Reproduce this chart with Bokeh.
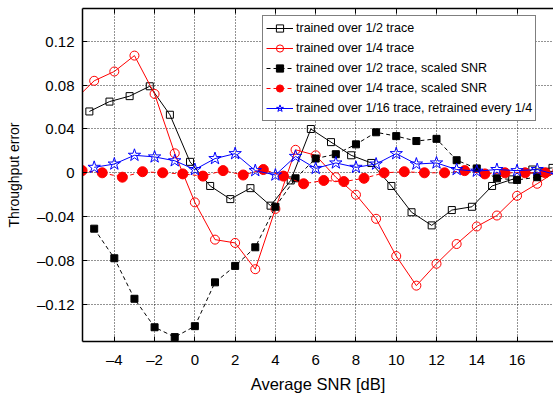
from bokeh.plotting import figure
from bokeh.models import Range1d, FixedTicker, LinearAxis, Legend, LegendItem, CustomJSTickFormatter
from bokeh.embed import file_html
from bokeh.resources import INLINE

# ---------------- data ----------------
x_half = [-5.24, -4.24, -3.24, -2.24, -1.24, -0.24, 0.76, 1.76, 2.76, 3.76, 4.76, 5.76,
          6.76, 7.76, 8.76, 9.76, 10.76, 11.76, 12.76, 13.76, 14.76, 15.76, 16.76, 17.76]
y_half = [0.056, 0.065, 0.070, 0.079, 0.053, 0.010, -0.012, -0.024, -0.014, -0.030, -0.007, 0.040,
          0.028, 0.016, 0.009, -0.012, -0.036, -0.048, -0.034, -0.031, -0.012, -0.006, 0.003, 0.0045]

x_quarter = [-6, -5, -4, -3, -2, -1, 0, 1, 2, 3, 4, 5, 6, 7, 8, 9, 10, 11, 12, 13, 14, 15, 16, 17, 18]
y_quarter = [0.066, 0.084, 0.0925, 0.107, 0.072, 0.0178, -0.027, -0.061, -0.064, -0.088, -0.033, 0.021,
             0.016, -0.004, -0.020, -0.042, -0.076, -0.103, -0.083, -0.065, -0.049, -0.039, -0.021, -0.010, 0.002]

x_half_s = [-5, -4, -3, -2, -1, 0, 1, 2, 3, 4, 5, 6, 7, 8, 9, 10, 11, 12, 13, 14, 15, 16, 17, 18]
y_half_s = [-0.051, -0.078, -0.115, -0.141, -0.150, -0.140, -0.100, -0.085, -0.068, -0.031, -0.005, 0.013,
            0.017, 0.026, 0.037, 0.0335, 0.029, 0.031, 0.0115, 0.004, -0.005, -0.0065, -0.004, -0.001]

x_quarter_s = [-5.6, -4.6, -3.6, -2.6, -1.6, -0.6, 0.4, 1.4, 2.4, 3.4, 4.4, 5.4,
               6.4, 7.4, 8.4, 9.4, 10.4, 11.4, 12.4, 13.4, 14.4, 15.4, 16.4, 17.4]
y_quarter_s = [0.002, 0.000, -0.004, 0.001, 0.000, -0.001, -0.003, 0.002, -0.002, 0.003, -0.003, -0.010,
               -0.007, -0.008, -0.005, 0.000, 0.001, 0.000, 0.000, 0.002, -0.001, 0.000, 0.000, 0.000]

x_sixteenth = [-5, -4, -3, -2, -1, 0, 1, 2, 3, 4, 5, 6, 7, 8, 9, 10, 11, 12, 13, 14, 15, 16, 17, 18]
y_sixteenth = [0.005, 0.008, 0.016, 0.0145, 0.011, 0.003, 0.013, 0.0175, 0.002, -0.002, 0.015, 0.004,
               0.009, 0.005, 0.008, 0.0175, 0.008, 0.009, 0.003, 0.0015, 0.003, 0.002, 0.003, -0.002]

labels = ["trained over 1/2 trace",
          "trained over 1/4 trace",
          "trained over 1/2 trace, scaled SNR",
          "trained over 1/4 trace, scaled SNR",
          "trained over 1/16 trace, retrained every 1/4"]

x_ticks = [-4, -2, 0, 2, 4, 6, 8, 10, 12, 14, 16, 18]
y_ticks = [-0.12, -0.08, -0.04, 0, 0.04, 0.08, 0.12]

FONT = "Liberation Sans"

p = figure(width=553, height=395, output_backend="svg", toolbar_location=None,
           x_range=Range1d(-5.58, 17.81), y_range=Range1d(-0.154, 0.15),
           min_border_left=82, min_border_right=0, min_border_top=8, min_border_bottom=53,
           x_axis_location=None, y_axis_location=None)
p.background_fill_color = "white"
p.border_fill_color = "white"
p.outline_line_color = None

xfmt = CustomJSTickFormatter(code="return (tick < 0 ? '\u2013' : '') + Math.abs(tick).toString();")
yfmt = CustomJSTickFormatter(code="return tick == 0 ? '0' : (tick < 0 ? '\u2013' : '') + Math.abs(tick).toFixed(2);")
nofmt = CustomJSTickFormatter(code="return '';")

def style_axis(ax, fmt):
    ax.formatter = fmt
    ax.major_tick_in = 5
    ax.major_tick_out = 0
    ax.minor_tick_line_color = None
    ax.axis_line_color = "black"
    ax.axis_line_width = 1.5
    ax.major_tick_line_color = "black"
    ax.major_label_text_font = FONT
    ax.major_label_text_font_size = "15px"
    ax.major_label_text_color = "black"
    ax.axis_label_text_font = FONT
    ax.axis_label_text_font_style = "normal"
    ax.axis_label_text_color = "black"

xax = LinearAxis(ticker=FixedTicker(ticks=x_ticks), axis_label="Average SNR [dB]")
style_axis(xax, xfmt)
xax.major_label_standoff = 9
xax.axis_label_standoff = 4
xax.axis_label_text_font_size = "16.5px"
p.add_layout(xax, "below")

yax = LinearAxis(ticker=FixedTicker(ticks=y_ticks), axis_label="Throughput error")
style_axis(yax, yfmt)
yax.major_label_standoff = 8
yax.axis_label_standoff = 12
yax.axis_label_text_font_size = "14px"
p.add_layout(yax, "left")

tax = LinearAxis(ticker=FixedTicker(ticks=x_ticks))
style_axis(tax, nofmt)
tax.major_label_standoff = 0
p.add_layout(tax, "above")

p.xgrid.ticker = FixedTicker(ticks=x_ticks)
p.ygrid.ticker = FixedTicker(ticks=y_ticks)
for g in (p.xgrid, p.ygrid):
    g.grid_line_color = "black"
    g.grid_line_alpha = 0.85
    g.grid_line_dash = "1 2"
    g.grid_line_width = 1

# ---------------- series ----------------
lA = p.line(x_half, y_half, line_color="black", line_width=1)
mA = p.scatter(x_half, y_half, marker="square", size=7, line_color="black", fill_color=None, line_width=1)

lB = p.line(x_quarter, y_quarter, line_color="red", line_width=1)
mB = p.scatter(x_quarter, y_quarter, marker="circle", size=9, line_color="red", fill_color=None, line_width=1)

lC = p.line(x_half_s, y_half_s, line_color="black", line_width=1, line_dash="4 3")
mC = p.scatter(x_half_s, y_half_s, marker="square", size=7, line_color="black", fill_color="black")

lD = p.line(x_quarter_s, y_quarter_s, line_color="red", line_width=1, line_dash="4 3")
mD = p.scatter(x_quarter_s, y_quarter_s, marker="circle", size=10, line_color="red", fill_color="red")

lE = p.line(x_sixteenth, y_sixteenth, line_color="blue", line_width=1)
mE = p.scatter(x_sixteenth, y_sixteenth, marker="star", size=13, line_color="blue", fill_color=None, line_width=1)

legend = Legend(items=[
    LegendItem(label=labels[0], renderers=[lA, mA]),
    LegendItem(label=labels[1], renderers=[lB, mB]),
    LegendItem(label=labels[2], renderers=[lC, mC]),
    LegendItem(label=labels[3], renderers=[lD, mD]),
    LegendItem(label=labels[4], renderers=[lE, mE]),
], location=(180, 220))
legend.border_line_color = "black"
legend.border_line_width = 1
legend.background_fill_color = "white"
legend.background_fill_alpha = 1
legend.label_text_font = FONT
legend.label_text_font_size = "12.5px"
legend.label_text_color = "black"
legend.glyph_width = 27
legend.glyph_height = 18
legend.label_height = 18
legend.spacing = 2
legend.padding = 3
legend.label_standoff = 3
legend.margin = 0
p.add_layout(legend)

open("out.html", "w").write(file_html(p, INLINE))
